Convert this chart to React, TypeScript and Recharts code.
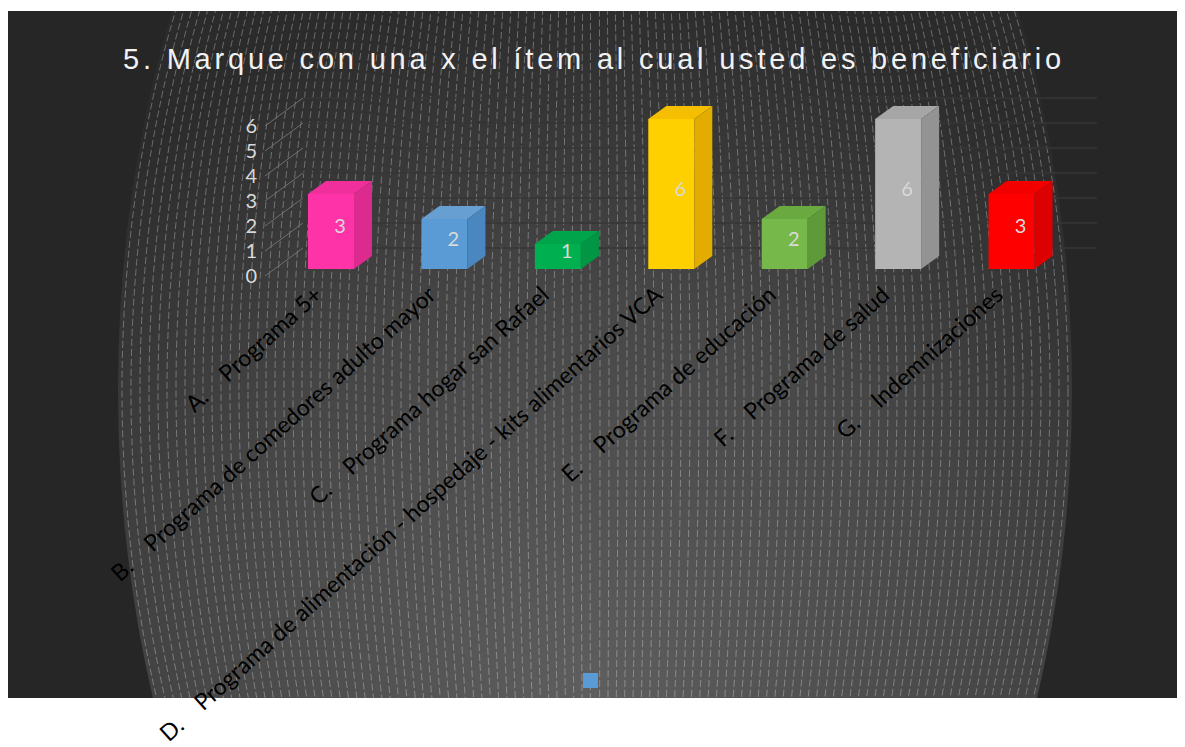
import React from 'react';
import { BarChart, Bar, XAxis, YAxis, CartesianGrid, LabelList, Legend } from 'recharts';

// datos
const categories = [
  'A.\tPrograma 5+',
  'B.\tPrograma de comedores adulto mayor',
  'C.\tPrograma hogar san Rafael',
  'D.\tPrograma de alimentación - hospedaje - kits alimentarios VCA',
  'E.\tPrograma de educación',
  'F.\tPrograma de salud',
  'G.\tIndemnizaciones',
];
const values = [3, 2, 1, 6, 2, 6, 3];
const yTicks = [0, 1, 2, 3, 4, 5, 6];
const title = '5. Marque con una x el ítem al cual usted es beneficiario';

const palette = [
  { front: '#ff33a8', top: '#f02f9d', side: '#dc2a8f' },
  { front: '#5b9bd5', top: '#679fd3', side: '#4a86c0' },
  { front: '#00b050', top: '#00a44a', side: '#009643' },
  { front: '#ffd000', top: '#f5be00', side: '#e2ad00' },
  { front: '#76b94a', top: '#6aa840', side: '#5f9a3a' },
  { front: '#b4b4b4', top: '#a6a6a6', side: '#939393' },
  { front: '#ff0000', top: '#f20000', side: '#dc0000' },
];

const chartData = categories.map((name, i) => ({ name, value: values[i] }));

// profundidad del efecto 3D
const DX = 18;
const DY = 13;

const Box3D = (props: any) => {
  const { x, y, width, height, index } = props;
  const c = palette[index % palette.length];
  return (
    <g>
      <rect x={x} y={y} width={width} height={height} fill={c.front} />
      <polygon
        points={`${x},${y} ${x + DX},${y - DY} ${x + width + DX},${y - DY} ${x + width},${y}`}
        fill={c.top}
      />
      <polygon
        points={`${x + width},${y} ${x + width + DX},${y - DY} ${x + width + DX},${y + height - DY} ${x + width},${y + height}`}
        fill={c.side}
      />
    </g>
  );
};

const ValueLabel = (props: any) => {
  const { x, y, width, height, value } = props;
  return (
    <text
      x={x + width / 2 + DX / 2}
      y={y + height / 2 - DY / 2}
      fill="#d9d9d9"
      fontSize={20}
      fontFamily="Lato"
      textAnchor="middle"
      dominantBaseline="central"
    >
      {value}
    </text>
  );
};

const CategoryTick = (props: any) => {
  const { x, y, payload } = props;
  const [prefix, rest] = String(payload.value).split('\t');
  const ax = x - 7;
  const ay = y + 28;
  return (
    <text
      x={ax}
      y={ay}
      transform={`rotate(-42, ${ax}, ${ay})`}
      textAnchor="end"
      fill="#000"
      fontSize={23}
      fontFamily="Lato"
    >
      {prefix}
      <tspan dx={24}>{rest}</tspan>
    </text>
  );
};

const ValueTick = (props: any) => {
  const { x, y, payload } = props;
  return (
    <text x={x - 17} y={y + 6} textAnchor="end" dominantBaseline="central" fill="#d9d9d9" fontSize={20} fontFamily="Lato">
      {payload.value}
    </text>
  );
};

const GridLine = (props: any) => {
  const { x1, x2, y1 } = props;
  return (
    <g>
      <line x1={x1 - 9} y1={y1 + 7} x2={x1 + 29} y2={y1 - 21} stroke="#707070" strokeWidth={1} />
      <line x1={x1 + 29} y1={y1 - 21} x2={x2 + 29} y2={y1 - 21} stroke="#363636" strokeWidth={1.5} />
    </g>
  );
};

const LegendSquare = () => (
  <div style={{ width: 15, height: 15, background: '#5b9bd5' }} />
);

const Background = () => {
  const cx = 587;
  const cy = 379;
  const ry = 820;
  const rings: number[] = [];
  for (let r = 5; r <= 477; r += 9) rings.push(r);
  return (
    <svg width={1169} height={687} style={{ position: 'absolute', left: 8, top: 11 }}>
      <defs>
        <radialGradient id="bgGrad" cx={584} cy={690} r={720} gradientUnits="userSpaceOnUse">
          <stop offset="0" stopColor="#5e5e5e" />
          <stop offset="0.55" stopColor="#474747" />
          <stop offset="1" stopColor="#2b2b2b" />
        </radialGradient>
      </defs>
      <rect width={1169} height={687} fill="#262626" />
      <ellipse cx={cx} cy={cy} rx={477} ry={ry} fill="url(#bgGrad)" />
      {rings.map((r) => (
        <ellipse
          key={r}
          cx={cx}
          cy={cy}
          rx={r}
          ry={ry}
          fill="none"
          stroke="rgba(255,255,255,0.3)"
          strokeWidth={1}
          strokeDasharray="7 3"
        />
      ))}
      <text
        x={586}
        y={58}
        textAnchor="middle"
        fill="#f2f2f2"
        fontSize={29}
        fontFamily="Liberation Sans"
        style={{ letterSpacing: 3.8 }}
      >
        {title}
      </text>
    </svg>
  );
};

export default function App() {
  return (
    <div style={{ position: 'absolute', left: 0, top: 0, width: 1185, height: 747, background: '#fff' }}>
      <Background />
      <div style={{ position: 'absolute', left: 0, top: 0 }}>
        <BarChart
          width={1185}
          height={747}
          data={chartData}
          margin={{ top: 119, right: 117, bottom: 448, left: 214 }}
          style={{ overflow: 'visible' }}
        >
          <CartesianGrid vertical={false} horizontal={GridLine} />
          <XAxis
            dataKey="name"
            height={30}
            axisLine={false}
            tickLine={false}
            tickSize={0}
            tickMargin={0}
            interval={0}
            tick={<CategoryTick />}
          />
          <YAxis
            width={60}
            domain={[0, 6]}
            ticks={yTicks}
            axisLine={false}
            tickLine={false}
            tickSize={0}
            tickMargin={0}
            tick={<ValueTick />}
          />
          <Legend
            layout="vertical"
            align="center"
            verticalAlign="middle"
            content={<LegendSquare />}
            wrapperStyle={{ left: 583, top: 673, width: 15, height: 15 }}
          />
          <Bar dataKey="value" name=" " barSize={46} shape={<Box3D />} isAnimationActive={false}>
            <LabelList dataKey="value" content={<ValueLabel />} />
          </Bar>
        </BarChart>
      </div>
    </div>
  );
}
